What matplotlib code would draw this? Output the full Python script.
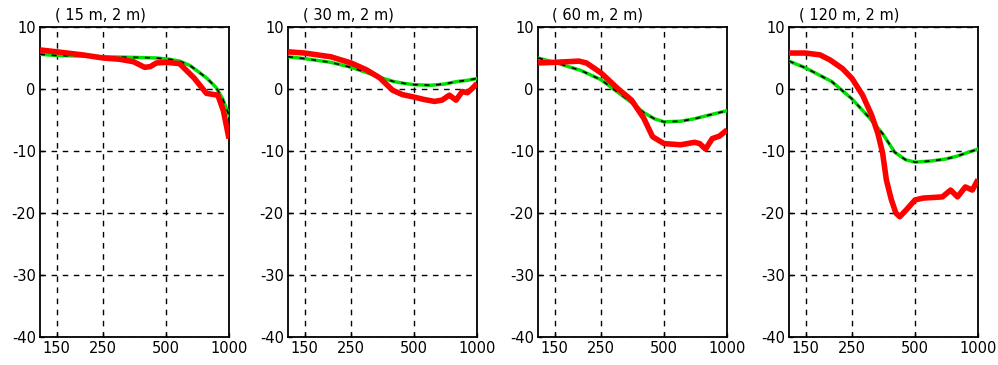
import matplotlib
matplotlib.use("Agg")
import matplotlib.pyplot as plt
from matplotlib.ticker import FixedLocator, NullLocator

plt.rcParams['font.family'] = ['DejaVu Sans']

titles = ["( 15 m, 2 m)", "( 30 m, 2 m)", "( 60 m, 2 m)", "( 120 m, 2 m)"]
x_ticks = [150, 250, 500, 1000]
y_ticks = [-40, -30, -20, -10, 0, 10]

# Panel 1 (15 m)
red1_x = [125, 150, 200, 250, 300, 350, 395, 420, 450, 500, 580, 680, 780, 885, 940, 1000]
red1_y = [6.3, 6.0, 5.5, 5.0, 4.8, 4.4, 3.5, 3.6, 4.2, 4.3, 4.1, 1.8, -0.7, -1.0, -3.5, -8.0]
grn1_x = [125, 150, 200, 250, 350, 450, 520, 580, 650, 700, 780, 865, 930, 1000]
grn1_y = [5.6, 5.4, 5.3, 5.2, 5.1, 5.0, 4.8, 4.5, 3.8, 3.0, 1.8, 0.3, -1.5, -4.2]

# Panel 2 (30 m)
red2_x = [125, 150, 200, 250, 296, 343, 395, 440, 500, 560, 626, 680, 738, 794, 850, 900, 950, 1000]
red2_y = [6.0, 5.8, 5.2, 4.2, 3.1, 1.8, -0.2, -0.9, -1.3, -1.7, -2.0, -1.8, -1.0, -1.8, -0.4, -0.6, 0.1, 0.9]
grn2_x = [125, 150, 200, 250, 300, 350, 400, 450, 500, 600, 700, 800, 900, 1000]
grn2_y = [5.2, 4.9, 4.3, 3.5, 2.6, 1.8, 1.2, 0.9, 0.7, 0.6, 0.8, 1.2, 1.4, 1.7]

# Panel 3 (60 m)
red3_x = [125, 150, 196, 213, 250, 300, 350, 400, 441, 500, 600, 700, 740, 790, 850, 920, 1000]
red3_y = [4.2, 4.3, 4.5, 4.2, 2.6, 0.1, -1.8, -4.7, -7.7, -8.8, -9.0, -8.6, -8.8, -9.7, -8.0, -7.6, -6.6]
grn3_x = [125, 150, 200, 250, 300, 350, 400, 450, 500, 600, 700, 800, 1000]
grn3_y = [5.0, 4.3, 3.0, 1.5, -0.5, -2.2, -3.8, -4.8, -5.3, -5.2, -4.8, -4.3, -3.5]

# Panel 4 (120 m)
red4_x = [125, 150, 176, 196, 225, 250, 281, 310, 332, 350, 365, 385, 405, 423, 454, 500, 545, 676, 740, 798, 870, 940, 1000]
red4_y = [5.8, 5.8, 5.5, 4.7, 3.3, 1.7, -1.0, -4.2, -7.1, -10.3, -14.7, -17.8, -20.0, -20.6, -19.5, -17.9, -17.6, -17.4, -16.3, -17.4, -15.8, -16.3, -14.6]
grn4_x = [125, 150, 200, 250, 300, 350, 400, 450, 500, 600, 700, 800, 900, 1000]
grn4_y = [4.5, 3.4, 1.2, -1.6, -4.5, -7.2, -10.2, -11.4, -11.8, -11.6, -11.3, -10.8, -10.2, -9.7]

panels = [
    (red1_x, red1_y, grn1_x, grn1_y),
    (red2_x, red2_y, grn2_x, grn2_y),
    (red3_x, red3_y, grn3_x, grn3_y),
    (red4_x, red4_y, grn4_x, grn4_y),
]

fig = plt.figure(figsize=(9.98, 3.65), dpi=100)
lefts = [40, 288, 538, 789]
W, H = 998.0, 365.0
for i, (rx, ry, gx, gy) in enumerate(panels):
    ax = fig.add_axes([lefts[i] / W, 28 / H, 189 / W, 310 / H])
    ax.set_xscale('log')
    ax.set_xlim(125, 1000)
    ax.set_ylim(-40, 10)
    ax.xaxis.set_major_locator(FixedLocator(x_ticks))
    ax.xaxis.set_minor_locator(NullLocator())
    ax.set_xticklabels([str(t) for t in x_ticks])
    ax.set_yticks(y_ticks)
    ax.set_yticklabels([str(t) for t in y_ticks])
    ax.tick_params(direction='in', length=3, width=1, labelsize=10.5, pad=3)
    ax.grid(True, color='black', linestyle=(0, (4, 4)), linewidth=1)
    for s in ax.spines.values():
        s.set_linewidth(1.3)
    ax.plot(gx, gy, color='#00e000', linewidth=2.5, zorder=3)
    ax.plot(gx, gy, color='black', linewidth=1.2, linestyle=(0, (3, 4)), zorder=4)
    ax.plot(rx, ry, color='red', linewidth=4, zorder=5, solid_capstyle='butt')
    ax.text(60 / 189, 1.0 + 12 / 310, titles[i], transform=ax.transAxes,
            ha='center', va='center', fontsize=10.5)

fig.savefig('out.png', dpi=100)
